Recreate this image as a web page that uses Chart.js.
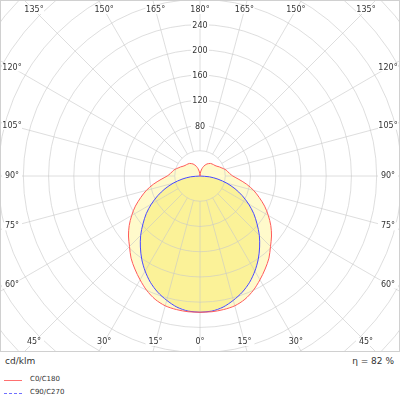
<!DOCTYPE html>
<html><head><meta charset="utf-8">
<script src="https://cdn.jsdelivr.net/npm/chart.js@4"></script>
<style>
body{margin:0;background:#fff;font-family:"DejaVu Sans",sans-serif;}
#wrap{position:absolute;left:0;top:0;width:400px;height:352px;}
.t{position:absolute;font-size:9px;color:#333;}
</style></head><body>
<div id="wrap"><canvas id="c"></canvas></div>
<div class="t" style="left:5px;top:356px;">cd/klm</div>
<div class="t" style="right:6px;top:356px;">η = 82 %</div>
<div style="position:absolute;left:4px;top:380px;width:18px;border-top:1px solid #ff7070"></div>
<div class="t" style="left:30px;top:375px;font-size:7px;">C0/C180</div>
<div style="position:absolute;left:4px;top:393px;width:18px;border-top:1px dashed #7070ff"></div>
<div class="t" style="left:30px;top:388px;font-size:7px;">C90/C270</div>
<script>
const angles=[0,5,10,15,20,25,30,35,40,45,50,55,60,65,70,75,80,85,90,95,100,105,110,115,120,125,130,135,140,145,150,155,160,165,170,175,180];
const c0c180=[216,216,215,213,208,200,190,180,170,158,148,137,125,113,100,88,75,62,52,47,44,41,37,34,31,29,28,27,26,24,22,19,16,12,8,4,0];
const c90c270=[216,215,211,204,196,186,174,161,147,133,118,104,89,74,59,44,29,15,0];
const radialTicks=[80,120,160,200,240];
const angleLabels=[0,15,30,45,60,75,90,105,120,135,150,165,180];
function toPts(vals){
  const right=[],left=[];
  vals.forEach((v,i)=>{const g=angles[i]*Math.PI/180;right.push({x:v*Math.sin(g),y:-v*Math.cos(g)});left.push({x:-v*Math.sin(g),y:-v*Math.cos(g)});});
  return right.concat(left.reverse());
}
const fills=['rgba(255,249,190,0.8)','rgba(250,240,140,0.8)'];
const polar={id:'polar',
 beforeDatasetsDraw(ch){
  const ctx=ch.ctx,xs=ch.scales.x,ys=ch.scales.y;
  const cx=xs.getPixelForValue(0),cy=ys.getPixelForValue(0);
  const k=xs.getPixelForValue(100)-cx;
  ctx.save();
  ctx.beginPath();ctx.rect(0,0,ch.width,ch.height);ctx.clip();
  ch.data.datasets.forEach((d,i)=>{const m=ch.getDatasetMeta(i);ctx.beginPath();m.data.forEach((p,j)=>j?ctx.lineTo(p.x,p.y):ctx.moveTo(p.x,p.y));ctx.closePath();ctx.fillStyle=fills[i];ctx.fill();});
  ctx.strokeStyle='rgba(200,200,200,0.6)';ctx.lineWidth=1;
  for(let r=40;r<=520;r+=40){ctx.beginPath();ctx.arc(cx,cy,r*k/100,0,2*Math.PI);ctx.stroke();}
  const r0=40*k/100;
  for(let a=0;a<360;a+=15){const g=a*Math.PI/180;ctx.beginPath();ctx.moveTo(cx+r0*Math.sin(g),cy+r0*Math.cos(g));ctx.lineTo(cx+600*Math.sin(g),cy+600*Math.cos(g));ctx.stroke();}
  ctx.strokeStyle='#d0d0d0';ctx.strokeRect(0.5,0.5,ch.width-1,ch.height-1);
  ctx.font='8px "DejaVu Sans"';ctx.textAlign='center';ctx.textBaseline='middle';
  radialTicks.forEach(t=>{const y=cy-t*k/100;ctx.fillStyle='#fff';ctx.fillRect(cx-9,y-4,18,8);ctx.fillStyle='#333';ctx.fillText(String(t),cx,y+1);});
  const W=ch.width,H=ch.height,ix=12,iy=10;
  angleLabels.forEach(a=>{[1,-1].forEach(s=>{if((a===0||a===180)&&s<0)return;
    const g=a*Math.PI/180,dx=s*Math.sin(g),dy=Math.cos(g);
    let t=Infinity;
    if(dx>1e-6)t=Math.min(t,(W-cx-ix)/dx);if(dx<-1e-6)t=Math.min(t,(ix-cx)/dx);
    if(dy>1e-6)t=Math.min(t,(H-cy-iy)/dy);if(dy<-1e-6)t=Math.min(t,(iy-cy)/dy);
    ctx.fillStyle='#fff';const x=cx+t*dx,y=cy+t*dy;ctx.fillRect(x-10,y-4,20,8);
    ctx.fillStyle='#333';ctx.fillText(a+'°',x,y);});});
  ctx.restore();
 }};
new Chart(document.getElementById('c'),{type:'scatter',
 data:{datasets:[
  {data:toPts(c0c180),showLine:true,borderColor:'#ff5a5a',borderWidth:1,pointRadius:0,tension:0.3},
  {data:toPts(c90c270),showLine:true,borderColor:'#4848ff',borderWidth:1,pointRadius:0,tension:0.3}
 ]},
 options:{responsive:true,maintainAspectRatio:false,animation:false,layout:{padding:0},
  plugins:{legend:{display:false},tooltip:{enabled:false}},
  scales:{x:{display:false,min:-317,max:317},y:{display:false,min:-279,max:279}}},
 plugins:[polar]});
</script></body></html>
